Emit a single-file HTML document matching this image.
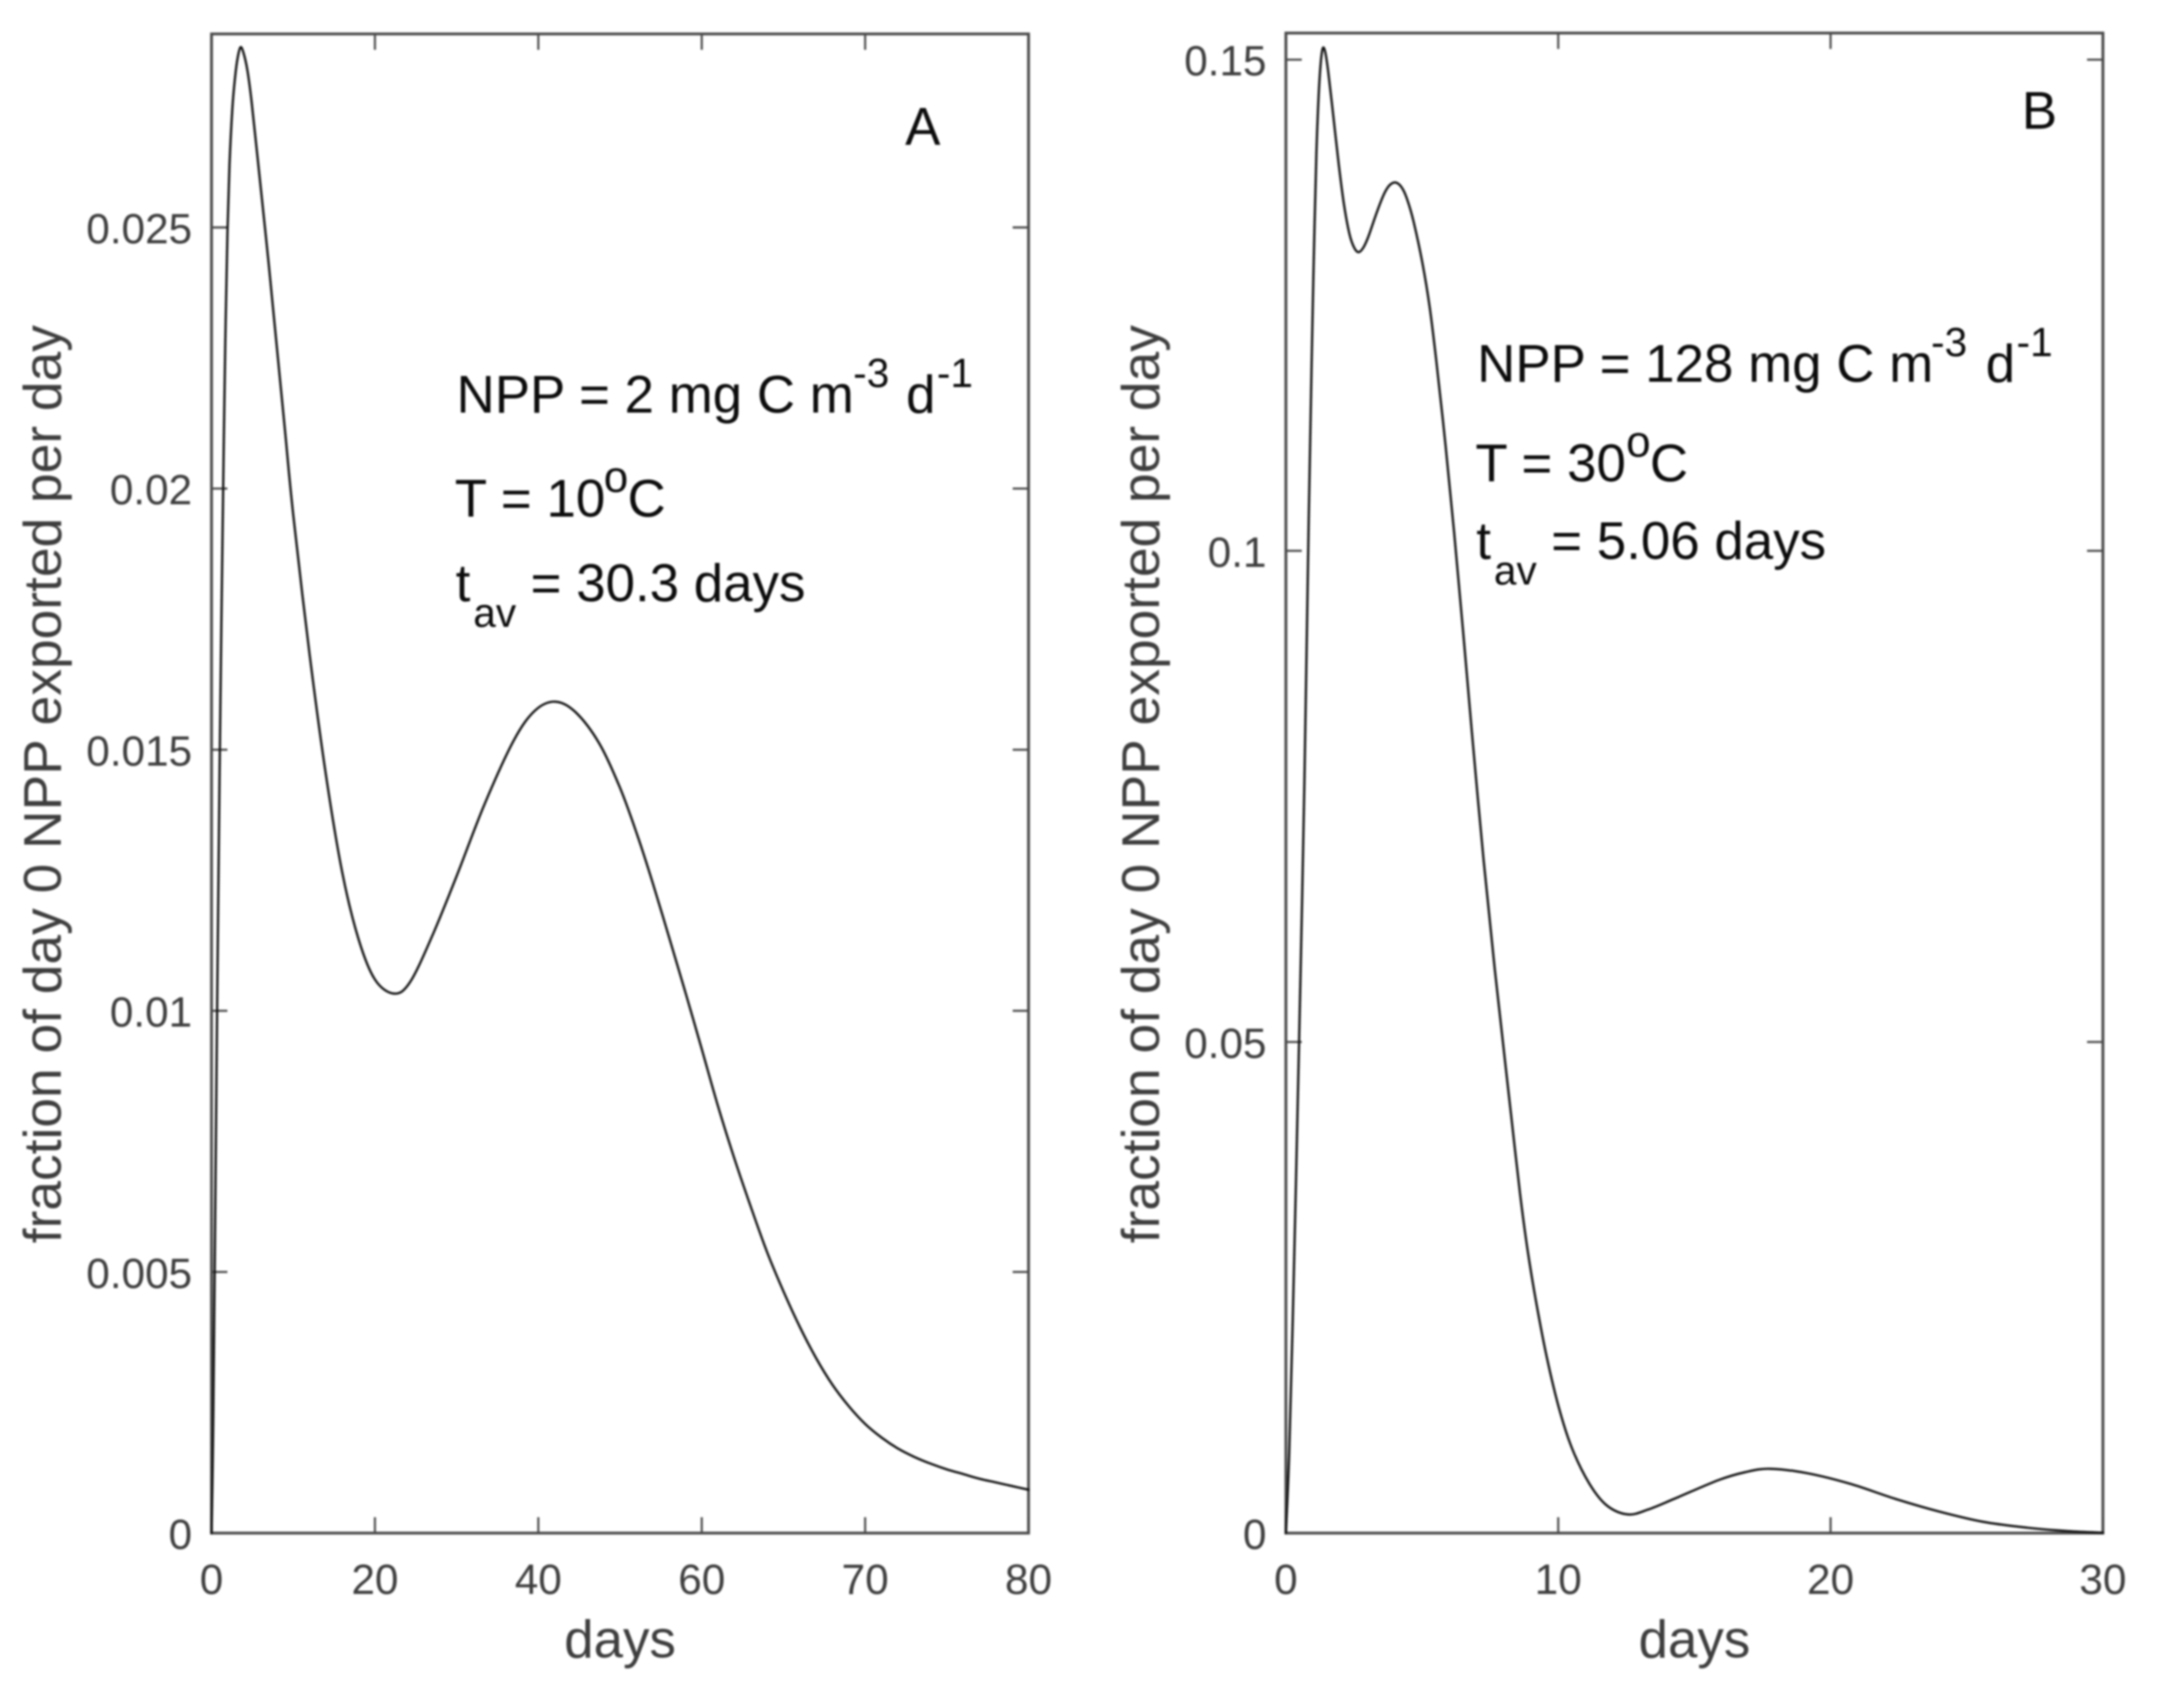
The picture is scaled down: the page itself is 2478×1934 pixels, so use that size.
<!DOCTYPE html>
<html lang="en">
<head>
<meta charset="utf-8">
<title>Fraction of day 0 NPP exported per day</title>
<style>
  html, body { margin: 0; padding: 0; background: #fff; }
  body { width: 2478px; height: 1934px; overflow: hidden; }
  svg { display: block; filter: blur(1.1px); font-family: "Liberation Sans", Arial, sans-serif; }
  .note { font-size: 60px; fill: #0c0c0c; }
  .small { font-size: 46px; fill: #0c0c0c; }
  .degree { font-size: 50px; fill: #0c0c0c; }
</style>
</head>
<body>
<svg id="chart" xmlns="http://www.w3.org/2000/svg" width="2478" height="1934" viewBox="0 0 2478 1934">
  <rect x="0" y="0" width="2478" height="1934" fill="#ffffff"/>
  <g id="panel-a"></g>
  <g id="panel-b"></g>

  <g>
    <text class="note" x="1027" y="164">A</text>
    <text class="note" x="518" y="468">NPP = 2 mg C m</text>
    <text class="small" x="968" y="439">-3</text>
    <text class="note" x="1028" y="468">d</text>
    <text class="small" x="1063" y="439">-1</text>
    <text class="note" x="516" y="586">T = 10</text>
    <text class="degree" x="685" y="558">o</text>
    <text class="note" x="712" y="586">C</text>
    <text class="note" x="517" y="682">t</text>
    <text class="small" x="537" y="711">av</text>
    <text class="note" x="602" y="682">= 30.3 days</text>
  </g>

  <g>
    <text class="note" x="2294" y="146">B</text>
    <text class="note" x="1676" y="433">NPP = 128 mg C m</text>
    <text class="small" x="2191" y="404">-3</text>
    <text class="note" x="2253" y="433">d</text>
    <text class="small" x="2288" y="404">-1</text>
    <text class="note" x="1674" y="546">T = 30</text>
    <text class="degree" x="1845" y="518">o</text>
    <text class="note" x="1872" y="546">C</text>
    <text class="note" x="1675" y="634">t</text>
    <text class="small" x="1695" y="663">av</text>
    <text class="note" x="1760" y="634">= 5.06 days</text>
  </g>
</svg>

<script>
// Panel A data
const daysA = [0,0.22,0.7,1.08,1.5,1.73,1.95,2.2,2.56,2.9,3.2,3.54,3.9,4.4,4.91,5.93,7,8,9,10,12,14,16,18,20,22.33,24.3,27,30,33.4,37,39.6,42.07,44.55,47.46,50,52.1,54,56.4,58.25,60,61,62,63,64,65,66,67,68,69,70,71,72,73,74,75,76,77,78,79,80];
const exportA = [0,0.0023,0.0103,0.0158,0.0209,0.0232,0.0249,0.0262,0.0273,0.0279,0.02825,0.02845,0.02835,0.028,0.0274,0.0259,0.0243,0.0227,0.0211,0.0195,0.01683,0.01452,0.01265,0.01137,0.0106,0.01033,0.01055,0.01143,0.01258,0.01395,0.01518,0.01575,0.01592,0.01572,0.01512,0.01427,0.01337,0.01245,0.0112,0.01022,0.00927,0.00817,0.00717,0.00625,0.00538,0.00463,0.00395,0.00335,0.00284,0.00243,0.00209,0.00183,0.00162,0.00146,0.00133,0.00122,0.00113,0.00104,0.00097,0.0009,0.00083];
const xTicksA = [0,20,40,60,70,80];
const yTicksA = [0,0.005,0.01,0.015,0.02,0.025];
const yTickLabelsA = ["0","0.005","0.01","0.015","0.02","0.025"];

// Panel B data
const daysB = [0,0.12,0.25,0.4,0.55,0.68,0.84,0.948,1.03,1.12,1.2,1.28,1.36,1.45,1.553,1.748,1.942,2.136,2.33,2.5,2.667,2.85,3.03,3.33,3.6,3.8,4.02,4.25,4.45,4.69,5.02,5.28,5.52,5.86,6.18,6.5,6.83,7.25,7.67,8.02,8.3,8.6,8.87,9.19,9.58,10.03,10.51,11.15,11.79,12.56,13.3,14.27,15.89,16.86,17.77,19.13,20.74,22.36,23.98,25.6,27.22,28.74,30];
const exportB = [0,0.008,0.0215,0.0395,0.0585,0.0765,0.1035,0.1195,0.1305,0.1405,0.1462,0.1497,0.1512,0.1507,0.1488,0.1441,0.1393,0.1352,0.1323,0.1309,0.1304,0.1309,0.132,0.1344,0.1363,0.1372,0.1375,0.137,0.1358,0.1335,0.1292,0.1248,0.1194,0.1108,0.1018,0.092,0.0815,0.0688,0.0574,0.0487,0.0418,0.0345,0.0289,0.0235,0.0179,0.0127,0.0086,0.005,0.0028,0.0019,0.0024,0.0035,0.0054,0.0062,0.00655,0.0061,0.005,0.0035,0.0022,0.00115,0.00055,0.0002,0.00004];
const xTicksB = [0,10,20,30];
const yTicksB = [0,0.05,0.1,0.15];
const yTickLabelsB = ["0","0.05","0.1","0.15"];

const yAxisTitle = "fraction of day 0 NPP exported per day";
const xAxisTitle = "days";
const NS = "http://www.w3.org/2000/svg";

function make(parent, tag, attrs, text) {
  const el = document.createElementNS(NS, tag);
  for (const k in attrs) el.setAttribute(k, attrs[k]);
  if (text !== undefined) el.textContent = text;
  parent.appendChild(el);
  return el;
}

// Evenly spaced printed ticks: positions are interpolated between tick values.
function tickAxis(ticks, start, end) {
  const step = (end - start) / (ticks.length - 1);
  return function (v) {
    let i = 0;
    while (i < ticks.length - 2 && v > ticks[i + 1]) i++;
    return start + (i + (v - ticks[i]) / (ticks[i + 1] - ticks[i])) * step;
  };
}

function linearAxis(domainValue, rangeZero, rangeAtValue) {
  return function (v) {
    return rangeZero + (v / domainValue) * (rangeAtValue - rangeZero);
  };
}

function smoothPath(pts) {
  let d = "M" + pts[0][0].toFixed(2) + " " + pts[0][1].toFixed(2);
  for (let i = 0; i < pts.length - 1; i++) {
    const p0 = pts[Math.max(i - 1, 0)], p1 = pts[i], p2 = pts[i + 1], p3 = pts[Math.min(i + 2, pts.length - 1)];
    const c1x = p1[0] + (p2[0] - p0[0]) / 6, c1y = p1[1] + (p2[1] - p0[1]) / 6;
    const c2x = p2[0] - (p3[0] - p1[0]) / 6, c2y = p2[1] - (p3[1] - p1[1]) / 6;
    d += "C" + c1x.toFixed(2) + " " + c1y.toFixed(2) + " " + c2x.toFixed(2) + " " + c2y.toFixed(2) + " " + p2[0].toFixed(2) + " " + p2[1].toFixed(2);
  }
  return d;
}

function drawPanel(cfg) {
  const g = document.getElementById(cfg.id);
  const xs = tickAxis(cfg.xTicks, cfg.left, cfg.right);
  const ys = linearAxis(cfg.yRefValue, cfg.bottom, cfg.yRefPixel);
  const tickLen = 18;
  const axisColor = "#4a4a4a";
  const textColor = "#3e3e3e";

  const frame = make(g, "rect", {x: cfg.left, y: cfg.top, width: cfg.right - cfg.left, height: cfg.bottom - cfg.top, fill: "none", stroke: axisColor, "stroke-width": 3.2});
  
  

  cfg.xTicks.forEach(function (t) {
    const px = xs(t);
    const bottomTick = make(g, "line", {x1: px, x2: px, y1: cfg.bottom, y2: cfg.bottom - tickLen, stroke: axisColor, "stroke-width": 2.4});
    
    
    const topTick = make(g, "line", {x1: px, x2: px, y1: cfg.top, y2: cfg.top + tickLen, stroke: axisColor, "stroke-width": 2.4});
    
    
    const label = make(g, "text", {x: px, y: 1808, "text-anchor": "middle", "font-size": 48, fill: textColor}, String(t));
    
    
  });

  cfg.yTicks.forEach(function (t, i) {
    const py = ys(t);
    const leftTick = make(g, "line", {x1: cfg.left, x2: cfg.left + tickLen, y1: py, y2: py, stroke: axisColor, "stroke-width": 2.4});
    
    
    const rightTick = make(g, "line", {x1: cfg.right, x2: cfg.right - tickLen, y1: py, y2: py, stroke: axisColor, "stroke-width": 2.4});
    
    
    const label = make(g, "text", {x: cfg.left - 22, y: py + 18, "text-anchor": "end", "font-size": 48, fill: textColor}, cfg.yLabels[i]);
    
    
  });

  const xTitle = make(g, "text", {x: (cfg.left + cfg.right) / 2, y: 1880, "text-anchor": "middle", "font-size": 60, fill: textColor}, xAxisTitle);
  
  

  const yTitle = make(g, "text", {x: 0, y: 0, "text-anchor": "middle", "font-size": 60.5, fill: textColor, transform: "translate(" + cfg.yTitleX + " 889.5) rotate(-90)"}, yAxisTitle);
  
  

  const pts = cfg.days.map(function (d, i) { return [xs(d), ys(cfg.values[i])]; });
  const curve = make(g, "path", {d: smoothPath(pts), fill: "none", stroke: "#111111", "stroke-width": 2.6, "stroke-linejoin": "round", "stroke-linecap": "round"});
  
  
}

drawPanel({
  id: "panel-a", left: 240, right: 1167, top: 38.5, bottom: 1739,
  yRefValue: 0.025, yRefPixel: 258,
  xTicks: xTicksA, yTicks: yTicksA, yLabels: yTickLabelsA,
  days: daysA, values: exportA, yTitleX: 69
});
drawPanel({
  id: "panel-b", left: 1459, right: 2386, top: 37.5, bottom: 1739,
  yRefValue: 0.15, yRefPixel: 67.7,
  xTicks: xTicksB, yTicks: yTicksB, yLabels: yTickLabelsB,
  days: daysB, values: exportB, yTitleX: 1315
});
</script>
</body>
</html>
